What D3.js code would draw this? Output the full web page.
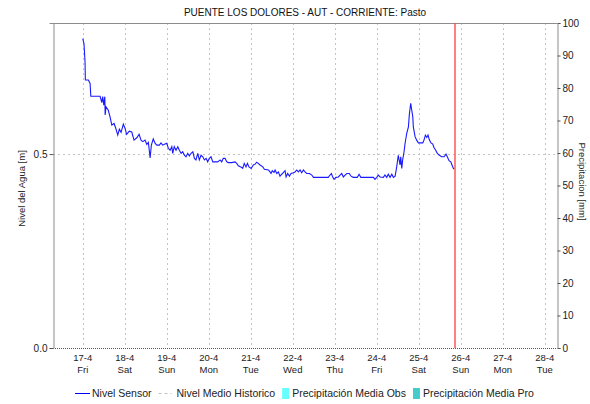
<!DOCTYPE html>
<html>
<head>
<meta charset="utf-8">
<script src="https://cdn.jsdelivr.net/npm/d3@7"></script>
<style>
  body { margin: 0; background: #fff; }
  svg { display: block; font-family: "Liberation Sans", Arial, sans-serif; }
</style>
</head>
<body>
<div id="chart"></div>
<script>
const chartTitle = "PUENTE LOS DOLORES - AUT - CORRIENTE: Pasto";
const leftTitle = "Nivel del Agua [m]";
const rightTitle = "Precipitacion [mm]";

const startDay = "2020-04-17T00:00";
const xDomain = ["2020-04-16T07:00", "2020-04-28T07:00"];
const nowMark = "2020-04-25T20:40";

const levelDomain = [0, 0.838];
const levelTicks = [0, 0.5];
const precipDomain = [0, 100];
const precipTicks = [0, 10, 20, 30, 40, 50, 60, 70, 80, 90, 100];

// hours after 17-4 00:00
const sensorHours = [
  0.0, 0.7, 1.3, 1.5, 3.2, 4.2, 4.6, 9.9, 10.9, 11.4, 12.0, 12.6, 12.8, 13.3, 14.6, 15.6,
  16.6, 17.9, 18.9, 20.0, 20.9, 21.9, 23.2, 24.2, 25.1, 26.6, 28.0, 29.3, 30.9, 32.2, 33.3,
  34.3, 35.6, 36.6, 37.5, 38.5, 39.2, 40.3, 41.3, 42.3, 43.8, 44.7, 45.7, 47.0, 48.0, 48.9,
  49.9, 50.9, 51.4, 52.3, 53.3, 54.3, 55.2, 56.2, 57.1, 58.1, 59.0, 60.0, 60.9, 61.9, 62.9,
  63.8, 64.7, 65.7, 66.6, 67.6, 68.6, 69.5, 70.5, 71.4, 72.3, 73.3, 74.3, 77.1, 78.5, 79.4,
  80.3, 81.3, 82.3, 83.2, 85.1, 87.0, 88.0, 88.9, 90.3, 91.4, 92.3, 93.3, 94.1, 95.0, 96.2,
  97.5, 98.5, 99.4, 100.3, 101.3, 102.9, 103.8, 106.1, 107.0, 107.6, 108.3, 109.3, 109.9,
  110.9, 111.8, 112.7, 113.7, 114.6, 115.6, 116.2, 117.1, 118.1, 119.0, 120.3, 121.3, 122.3,
  123.2, 124.2, 125.1, 126.1, 127.0, 128.0, 129.5, 130.9, 131.8, 140.3, 141.3, 142.1, 142.9,
  143.6, 144.7, 146.1, 147.0, 148.0, 148.9, 149.9, 150.9, 152.3, 153.3, 154.6, 156.9, 157.9,
  158.9, 166.1, 167.0, 168.0, 168.9, 169.9, 171.8, 172.7, 173.7, 174.6, 175.6, 176.6, 177.5,
  178.5, 179.4, 180.3, 181.3, 181.7, 182.3, 182.8, 183.6, 184.2, 185.1, 186.1, 186.6, 187.4,
  188.0, 188.6, 188.9, 189.9, 190.8, 191.8, 194.3, 195.0, 195.8, 196.6, 197.3, 198.1, 199.0,
  200.0, 200.7, 201.7, 202.6, 203.8, 205.1, 206.5, 207.6, 208.3, 209.3, 210.3, 211.0, 211.8,
  212.2
];

const sensorLevels = [
  0.798, 0.785, 0.738, 0.691, 0.691, 0.682, 0.649, 0.649, 0.633, 0.648, 0.626, 0.648, 0.601, 0.622, 0.613, 0.596,
  0.575, 0.579, 0.566, 0.549, 0.564, 0.556, 0.577, 0.566, 0.551, 0.559, 0.557, 0.536, 0.542, 0.551, 0.536,
  0.532, 0.536, 0.525, 0.530, 0.490, 0.523, 0.539, 0.528, 0.523, 0.523, 0.529, 0.523, 0.526, 0.528, 0.515,
  0.510, 0.519, 0.502, 0.519, 0.510, 0.519, 0.510, 0.502, 0.506, 0.497, 0.493, 0.502, 0.495, 0.502, 0.506,
  0.489, 0.485, 0.502, 0.485, 0.497, 0.493, 0.485, 0.489, 0.480, 0.489, 0.493, 0.480, 0.480, 0.485, 0.480,
  0.489, 0.489, 0.480, 0.478, 0.478, 0.480, 0.476, 0.470, 0.467, 0.463, 0.476, 0.467, 0.476, 0.467, 0.463,
  0.472, 0.474, 0.479, 0.476, 0.472, 0.467, 0.461, 0.459, 0.454, 0.450, 0.457, 0.453, 0.459,
  0.450, 0.454, 0.443, 0.448, 0.452, 0.457, 0.441, 0.450, 0.443, 0.450, 0.452, 0.454, 0.459,
  0.454, 0.459, 0.452, 0.459, 0.454, 0.450, 0.450, 0.446, 0.440, 0.440, 0.446, 0.450, 0.440,
  0.435, 0.440, 0.441, 0.446, 0.450, 0.441, 0.446, 0.450, 0.450, 0.443, 0.440, 0.440, 0.448,
  0.440, 0.440, 0.435, 0.440, 0.446, 0.441, 0.440, 0.446, 0.440, 0.448, 0.440, 0.448, 0.440,
  0.443, 0.467, 0.497, 0.472, 0.493, 0.463, 0.485, 0.506, 0.528, 0.553, 0.570, 0.601, 0.631,
  0.613, 0.596, 0.570, 0.545, 0.536, 0.529, 0.529, 0.536, 0.549, 0.543, 0.549, 0.536, 0.529,
  0.526, 0.517, 0.510, 0.502, 0.497, 0.493, 0.493, 0.500, 0.493, 0.483, 0.480, 0.472, 0.463,
  0.461
];

const legendLabels = ["Nivel Sensor", "Nivel Medio Historico", "Precipitación Media Obs", "Precipitación Media Pro"];
const legendKinds = ["line", "dash", "rect", "rect"];
const legendColors = ["#0000ff", "#c0c0c0", "#66ffff", "#44cccc"];

(() => {
const width = 590;
const height = 404;
const margin = { top: 23, right: 33, bottom: 56, left: 53 };
const plotLeft = margin.left;
const plotRight = width - margin.right;
const plotTop = margin.top;
const plotBottom = height - margin.bottom;

const parseTime = d3.timeParse("%Y-%m-%dT%H:%M");
const t0 = parseTime(startDay);

const data = sensorHours.map((h, i) => ({
  date: new Date(t0.getTime() + h * 3600e3),
  value: sensorLevels[i]
}));

const svg = d3.select("#chart")
  .append("svg")
  .attr("width", width)
  .attr("height", height);

const x = d3.scaleTime()
  .domain(xDomain.map(parseTime))
  .range([plotLeft, plotRight]);

const y = d3.scaleLinear()
  .domain(levelDomain)
  .range([plotBottom, plotTop]);

const yRight = d3.scaleLinear()
  .domain(precipDomain)
  .range([plotBottom, plotTop]);

const dayTicks = d3.timeDay.range(t0, parseTime(xDomain[1]));
const px = v => Math.round(v) + 0.5;

// grid
svg.append("g")
  .selectAll("line")
  .data(dayTicks)
  .enter()
  .append("line")
  .attr("x1", d => px(x(d)))
  .attr("x2", d => px(x(d)))
  .attr("y1", plotTop)
  .attr("y2", plotBottom)
  .attr("stroke", "#c4c4c4")
  .attr("stroke-dasharray", "2,3");

svg.append("g")
  .selectAll("line")
  .data(levelTicks.filter(d => d > 0))
  .enter()
  .append("line")
  .attr("x1", plotLeft)
  .attr("x2", plotRight)
  .attr("y1", d => px(y(d)))
  .attr("y2", d => px(y(d)))
  .attr("stroke", "#c4c4c4")
  .attr("stroke-dasharray", "2,3");

// frame
svg.append("line")
  .attr("x1", plotLeft).attr("x2", plotRight)
  .attr("y1", plotTop + 0.5).attr("y2", plotTop + 0.5)
  .attr("stroke", "#8c8c8c");

svg.append("line")
  .attr("x1", plotLeft).attr("x2", plotRight)
  .attr("y1", plotBottom + 0.5).attr("y2", plotBottom + 0.5)
  .attr("stroke", "#555")
  .attr("stroke-dasharray", "1,1");

// left axis
const leftAxis = svg.append("g")
  .attr("transform", `translate(${plotLeft + 0.5},0)`)
  .call(d3.axisLeft(y).tickValues(levelTicks).tickFormat(d3.format(".1f")).tickSize(4).tickPadding(2));
leftAxis.select(".domain").attr("stroke", "#8c8c8c");
leftAxis.selectAll(".tick line").attr("stroke", "#555");
leftAxis.selectAll("text").style("font-size", "10px").attr("fill", "#222");

// right axis
const rightAxis = svg.append("g")
  .attr("transform", `translate(${plotRight + 0.5},0)`)
  .call(d3.axisRight(yRight).tickValues(precipTicks).tickSize(3).tickPadding(2));
rightAxis.select(".domain").attr("stroke", "#8c8c8c");
rightAxis.selectAll(".tick line").attr("stroke", "#555");
rightAxis.selectAll("text").style("font-size", "10px").attr("fill", "#222");

// bottom tick labels, date then weekday
const fmtDay = d3.timeFormat("%-d-%-m");
const fmtWeek = d3.timeFormat("%a");
[[fmtDay, 13], [fmtWeek, 25]].forEach(([fmt, dy]) => {
  svg.append("g")
    .selectAll("text")
    .data(dayTicks)
    .enter()
    .append("text")
    .attr("x", d => x(d))
    .attr("y", plotBottom + dy)
    .attr("text-anchor", "middle")
    .style("font-size", "9.5px")
    .attr("fill", "#222")
    .text(d => fmt(d));
});

// sensor line
const line = d3.line()
  .x(d => x(d.date))
  .y(d => y(d.value));

svg.append("path")
  .datum(data)
  .attr("fill", "none")
  .attr("stroke", "#1a1aff")
  .attr("stroke-width", 1.1)
  .attr("d", line);

// current time marker
const nowX = Math.round(x(parseTime(nowMark)));
svg.append("line")
  .attr("x1", nowX).attr("x2", nowX)
  .attr("y1", plotTop).attr("y2", plotBottom)
  .attr("stroke", "#ff4a4a")
  .attr("stroke-width", 1.4);

// titles
svg.append("text")
  .attr("x", (plotLeft + plotRight) / 2)
  .attr("y", 16)
  .attr("text-anchor", "middle")
  .style("font-size", "10px")
  .attr("fill", "#111")
  .text(chartTitle);

svg.append("text")
  .attr("transform", `translate(25,${(plotTop + plotBottom) / 2 + 3}) rotate(-90)`)
  .attr("text-anchor", "middle")
  .style("font-size", "9.5px")
  .attr("fill", "#222")
  .text(leftTitle);

svg.append("text")
  .attr("transform", `translate(579,${(plotTop + plotBottom) / 2 - 4}) rotate(90)`)
  .attr("text-anchor", "middle")
  .style("font-size", "9.5px")
  .attr("fill", "#222")
  .text(rightTitle);

// legend
const legendY = 393;
let lx = 75;
legendLabels.forEach((label, i) => {
  const kind = legendKinds[i];
  if (kind === "line" || kind === "dash") {
    svg.append("line")
      .attr("x1", lx).attr("x2", lx + (kind === "line" ? 15 : 13))
      .attr("y1", legendY + 0.5).attr("y2", legendY + 0.5)
      .attr("stroke", legendColors[i])
      .attr("stroke-dasharray", kind === "dash" ? "3,3" : null);
    lx += kind === "line" ? 17 : 18;
  } else {
    svg.append("rect")
      .attr("x", lx).attr("y", legendY - 5)
      .attr("width", 7).attr("height", 11)
      .attr("fill", legendColors[i]);
    lx += 10;
  }
  const t = svg.append("text")
    .attr("x", lx)
    .attr("y", legendY + 4)
    .style("font-size", "10.5px")
    .attr("fill", "#222")
    .text(label);
  lx += t.node().getComputedTextLength() + 7;
});
})();
</script>
</body>
</html>
